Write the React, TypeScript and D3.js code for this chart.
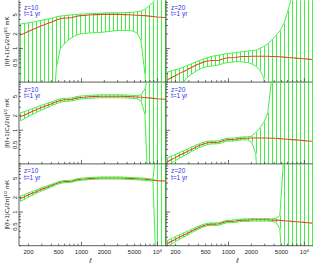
import React from 'react';
import * as d3 from 'd3';

// multipole bins
const ELL = [155, 175, 198, 224, 253, 286, 323, 365, 412, 466, 526, 595, 672, 759, 858, 970, 1096, 1238, 1399, 1581, 1787, 2019, 2282, 2578, 2913, 3292, 3720, 4204, 4750, 5368, 6066, 6854, 7745, 8752, 9890, 11175, 12628];

// signal, mK
const MEAN_Z10 = [1.9, 2.05, 2.25, 2.45, 2.65, 2.9, 3.1, 3.35, 3.6, 3.9, 4.15, 4.3, 4.3, 4.4, 4.65, 4.8, 4.85, 4.95, 5.0, 5.05, 5.1, 5.1, 5.1, 5.1, 5.1, 5.08, 5.05, 5.0, 4.95, 4.9, 4.85, 4.8, 4.7, 4.6, 4.5, 4.45, 4.4];
const MEAN_Z20 = [0.22, 0.245, 0.27, 0.3, 0.33, 0.36, 0.4, 0.44, 0.48, 0.52, 0.55, 0.56, 0.56, 0.57, 0.61, 0.64, 0.64, 0.65, 0.67, 0.68, 0.68, 0.69, 0.69, 0.69, 0.69, 0.69, 0.68, 0.68, 0.67, 0.66, 0.65, 0.64, 0.63, 0.62, 0.61, 0.6, 0.59];

// error envelopes (0 = below zero)
const TL_UP = [3.2, 3.3, 3.4, 3.5, 3.65, 3.8, 3.95, 4.1, 4.3, 4.55, 4.7, 4.8, 4.9, 5.0, 5.1, 5.15, 5.2, 5.25, 5.3, 5.35, 5.4, 5.45, 5.5, 5.5, 5.5, 5.5, 5.55, 5.6, 5.6, 5.8, 6.0, 6.5, 7.6, 9.0, 12, 16, 22];
const TL_LO = [0, 0, 0, 0, 0, 0, 0, 0, 0, 0.4, 1.0, 1.25, 1.5, 1.7, 1.9, 2.0, 2.05, 2.1, 2.1, 2.15, 2.15, 2.2, 2.25, 2.3, 2.35, 2.37, 2.37, 2.35, 2.3, 2.1, 1.5, 0.3, 0, 0, 0, 0, 0];
const TR_UP = [0.32, 0.34, 0.36, 0.38, 0.41, 0.44, 0.48, 0.52, 0.56, 0.6, 0.64, 0.68, 0.71, 0.73, 0.76, 0.78, 0.8, 0.82, 0.84, 0.86, 0.88, 0.9, 0.92, 1.0, 1.1, 1.25, 1.5, 1.85, 2.3, 3.3, 6, 12, 20, 30, 40, 50, 60];
const TR_LO = [0, 0, 0, 0, 0.2, 0.25, 0.29, 0.33, 0.37, 0.4, 0.42, 0.43, 0.44, 0.46, 0.49, 0.51, 0.52, 0.53, 0.53, 0.52, 0.51, 0.48, 0.43, 0.36, 0.25, 0, 0, 0, 0, 0, 0, 0, 0, 0, 0, 0, 0];
const ML_UP = [2.28, 2.42, 2.61, 2.79, 2.99, 3.25, 3.44, 3.69, 3.92, 4.25, 4.48, 4.6, 4.6, 4.71, 4.98, 5.14, 5.19, 5.3, 5.35, 5.4, 5.46, 5.46, 5.46, 5.46, 5.46, 5.44, 5.4, 5.35, 5.3, 5.24, 5.43, 7.2, 15, 25, 40, 60, 80];
const ML_LO = [1.56, 1.72, 1.94, 2.13, 2.33, 2.58, 2.79, 3.02, 3.28, 3.55, 3.82, 4.0, 4.0, 4.09, 4.32, 4.46, 4.51, 4.6, 4.65, 4.7, 4.74, 4.74, 4.74, 4.74, 4.74, 4.72, 4.7, 4.65, 4.6, 4.56, 4.12, 2.16, 0, 0, 0, 0, 0];
const MR_UP = [0.264, 0.289, 0.313, 0.342, 0.373, 0.403, 0.444, 0.484, 0.523, 0.567, 0.594, 0.599, 0.599, 0.61, 0.653, 0.685, 0.685, 0.696, 0.717, 0.728, 0.728, 0.75, 0.9, 1.1, 1.45, 2.3, 12, 20, 30, 40, 50, 60, 70, 80, 90, 100, 110];
const MR_LO = [0.18, 0.206, 0.232, 0.261, 0.29, 0.32, 0.36, 0.396, 0.437, 0.473, 0.506, 0.521, 0.521, 0.53, 0.567, 0.595, 0.595, 0.605, 0.623, 0.632, 0.632, 0.56, 0.33, 0, 0, 0, 0, 0, 0, 0, 0, 0, 0, 0, 0, 0, 0];
const BL_UP = [2.13, 2.28, 2.48, 2.67, 2.86, 3.13, 3.32, 3.58, 3.82, 4.1, 4.36, 4.52, 4.52, 4.62, 4.88, 5.04, 5.09, 5.2, 5.25, 5.3, 5.36, 5.36, 5.36, 5.36, 5.36, 5.33, 5.3, 5.25, 5.2, 5.15, 5.09, 5.04, 4.94, 4.83, 30, 50, 80];
const BL_LO = [1.67, 1.82, 2.03, 2.23, 2.44, 2.67, 2.88, 3.12, 3.38, 3.71, 3.94, 4.09, 4.09, 4.18, 4.42, 4.56, 4.61, 4.7, 4.75, 4.8, 4.85, 4.85, 4.85, 4.85, 4.85, 4.83, 4.8, 4.75, 4.7, 4.66, 4.61, 4.56, 4.47, 4.37, 0, 0, 0];
const BR_UP = [0.253, 0.279, 0.305, 0.336, 0.366, 0.396, 0.436, 0.475, 0.514, 0.556, 0.583, 0.594, 0.594, 0.604, 0.647, 0.678, 0.678, 0.689, 0.71, 0.721, 0.721, 0.731, 0.731, 0.731, 0.731, 0.731, 0.721, 0.74, 0.85, 15, 25, 40, 60, 80, 100, 120, 140];
const BR_LO = [0.191, 0.216, 0.24, 0.27, 0.3, 0.331, 0.372, 0.409, 0.451, 0.489, 0.517, 0.526, 0.526, 0.536, 0.573, 0.602, 0.602, 0.611, 0.63, 0.639, 0.639, 0.649, 0.649, 0.649, 0.649, 0.649, 0.639, 0.62, 0.45, 0, 0, 0, 0, 0, 0, 0, 0];

const X_LABELS = [200, 500, 1000, 2000, 5000];
const Y_LABELS = [0.5, 1, 2, 5];
const Z_LABELS = ['z=10', 'z=20'];
const T_LABEL = 't=1 yr';

const W = 314;
const H = 265;
const COL_X = [[19, 166], [166, 313]];
const ROW_TOP = 0.3;
const ROW_H = 81.8;
const GREEN = '#44f044';
const RED = '#e4472b';
const AXIS = '#333';
const FONT = '"Liberation Sans", Arial, sans-serif';

const panels = [
  { row: 0, col: 0, mean: MEAN_Z10, up: TL_UP, lo: TL_LO },
  { row: 0, col: 1, mean: MEAN_Z20, up: TR_UP, lo: TR_LO },
  { row: 1, col: 0, mean: MEAN_Z10, up: ML_UP, lo: ML_LO },
  { row: 1, col: 1, mean: MEAN_Z20, up: MR_UP, lo: MR_LO },
  { row: 2, col: 0, mean: MEAN_Z10, up: BL_UP, lo: BL_LO },
  { row: 2, col: 1, mean: MEAN_Z20, up: BR_UP, lo: BR_LO },
];

const xTicks: number[] = [];
[100, 1000, 10000].forEach(d => { for (let k = 1; k < 10; k++) xTicks.push(d * k); });
const yTicks: number[] = [];
[0.1, 1].forEach(d => { for (let k = 1; k < 10; k++) yTicks.push(d * k); });

const Panel = ({ p, idx }: any) => {
  const [x0, x1] = COL_X[p.col];
  const top = ROW_TOP + p.row * ROW_H;
  const bottom = top + ROW_H;
  const x = d3.scaleLog().domain([150, 13000]).range([x0, x1]);
  const y = d3.scaleLog().domain([0.2, 10]).range([bottom, top]);
  const yv = (v: number) => y(Math.max(v, 0.02));
  const line = d3.line<number>().x((_, i) => x(ELL[i])).y(v => yv(v));
  const clipId = `clip${idx}`;
  return (
    <g>
      <defs>
        <clipPath id={clipId}>
          <rect x={x0} y={top} width={x1 - x0} height={bottom - top} />
        </clipPath>
      </defs>
      <g clipPath={`url(#${clipId})`}>
        {ELL.map((l, i) => (
          <line key={i} x1={Math.round(x(l)) + 0.5} x2={Math.round(x(l)) + 0.5} y1={yv(p.up[i])} y2={yv(p.lo[i])}
            stroke={GREEN} strokeWidth={1} />
        ))}
        <path d={line(p.mean) || ''} fill="none" stroke={RED} strokeWidth={1.1} />
        <path d={line(p.up) || ''} fill="none" stroke={GREEN} strokeWidth={1} />
        <path d={line(p.lo) || ''} fill="none" stroke={GREEN} strokeWidth={1} />
      </g>
      {/* axes */}
      <line x1={x0} x2={x1} y1={bottom} y2={bottom} stroke={AXIS} strokeWidth={0.8} />
      <line x1={x0} x2={x0} y1={top} y2={bottom} stroke={AXIS} strokeWidth={0.8} />
      {xTicks.filter(t => t > 150 && t < 13000).map(t => {
        const major = t === 1000 || t === 10000;
        return <line key={t} x1={x(t)} x2={x(t)} y1={bottom} y2={bottom - (major ? 4 : 2)} stroke={AXIS} strokeWidth={0.7} />;
      })}
      {yTicks.filter(t => t >= 0.2 && t < 10).map(t => {
        const major = t === 1;
        return <line key={t} x1={x0} x2={x0 + (major ? 4 : 2)} y1={y(t)} y2={y(t)} stroke={AXIS} strokeWidth={0.7} />;
      })}
      {p.col === 0 && Y_LABELS.map(t => (
        <text key={t} transform={`translate(17.3,${y(t)}) rotate(-90)`} textAnchor="middle"
          fontSize={6} fontFamily={FONT} fill="#222">{t}</text>
      ))}
      {p.col === 0 && (
        <text transform={`translate(9,${(top + bottom) / 2}) rotate(-90)`} textAnchor="middle"
          fontSize={6} fontFamily={FONT} fill="#222">
          [ℓ(ℓ+1)C<tspan fontSize={4.3} dy={1.4}>ℓ</tspan><tspan dy={-1.4}>/2π]</tspan>
          <tspan fontSize={4.3} dy={-2.4}>1/2</tspan><tspan dy={2.4}>  mK</tspan>
        </text>
      )}
      <text x={x0 + 5} y={top + 9.5} fontSize={6.5} fontFamily={FONT} fill="#3535e8">{Z_LABELS[p.col]}</text>
      <text x={x0 + 5} y={top + 16} fontSize={6.5} fontFamily={FONT} fill="#3535e8">{T_LABEL}</text>
      {p.row === 2 && (
        <g>
          {X_LABELS.map(t => (
            <text key={t} x={x(t)} y={254} textAnchor="middle" fontSize={6} fontFamily={FONT} fill="#222">{t}</text>
          ))}
          <text x={x(10000)} y={254} textAnchor="middle" fontSize={6} fontFamily={FONT} fill="#222">
            10<tspan fontSize={4.3} dy={-2.5}>4</tspan>
          </text>
          <text x={(x0 + x1) / 2 - 2} y={263} textAnchor="middle" fontSize={7} fontStyle="italic" fontFamily={FONT} fill="#222">ℓ</text>
        </g>
      )}
    </g>
  );
};

export default function App() {
  return (
    <svg width={W} height={H} style={{ position: 'absolute', left: 0, top: 0, background: '#fff' }}>
      {panels.map((p, i) => <Panel key={i} p={p} idx={i} />)}
    </svg>
  );
}
